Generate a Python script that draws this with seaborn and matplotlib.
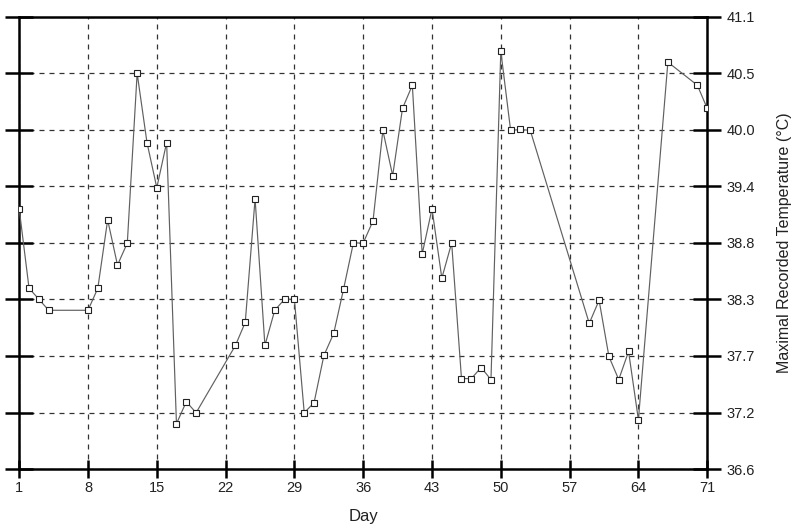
import matplotlib
matplotlib.use("Agg")
import matplotlib.pyplot as plt
import seaborn as sns
import numpy as np
import pandas as pd

days = [1, 2, 3, 4, 8, 9, 10, 11, 12, 13, 14, 15, 16, 17, 18, 19, 23, 24, 25, 26,
        27, 28, 29, 30, 31, 32, 33, 34, 35, 36, 37, 38, 39, 40, 41, 42, 43, 44, 45,
        46, 47, 48, 49, 50, 51, 52, 53, 59, 60, 61, 62, 63, 64, 67, 70, 71]
temps = [39.19, 38.40, 38.29, 38.18, 38.18, 38.40, 39.08, 38.63, 38.85, 40.54,
         39.85, 39.40, 39.85, 37.05, 37.27, 37.16, 37.83, 38.06, 39.29, 37.83,
         38.18, 38.29, 38.29, 37.16, 37.26, 37.73, 37.95, 38.39, 38.85, 38.85,
         39.07, 39.97, 39.52, 40.19, 40.42, 38.74, 39.19, 38.50, 38.85, 37.50,
         37.50, 37.61, 37.49, 40.76, 39.97, 39.98, 39.97, 38.05, 38.28, 37.72,
         37.49, 37.77, 37.09, 40.65, 40.42, 40.19]

x_ticks = [1, 8, 15, 22, 29, 36, 43, 50, 57, 64, 71]
y_tick_labels = ["36.6", "37.2", "37.7", "38.3", "38.8", "39.4", "40.0", "40.5", "41.1"]
y_min, y_max = 36.6, 41.1

sns.set_theme(style="white")
plt.rcParams['font.family'] = ['Liberation Sans', 'DejaVu Sans']

df = pd.DataFrame({"Day": days, "Temp": temps})

fig = plt.figure(figsize=(8.0, 5.29), dpi=100)
ax = fig.add_axes([0.024, 0.1134, 0.86, 0.8546])

sns.lineplot(data=df, x="Day", y="Temp", ax=ax, color="#606060", linewidth=0.85,
             marker="s", markersize=4.6, markerfacecolor="white",
             markeredgecolor="#222222", markeredgewidth=0.8, sort=False, zorder=3)

ax.set_xlim(1, 71)
ax.set_ylim(y_min, y_max)
ax.set_xticks(x_ticks)
ax.set_xticklabels([str(t) for t in x_ticks], fontsize=10.5)
yt = np.linspace(y_min, y_max, len(y_tick_labels))
ax.set_yticks(yt)
ax.set_yticklabels(y_tick_labels, fontsize=10.5)

ax.grid(True, color="#333333", linestyle=(0, (4, 4)), linewidth=0.9)
for s in ax.spines.values():
    s.set_color("black")
    s.set_linewidth(1.8)
    s.set_visible(True)

ax.tick_params(axis="y", which="major", direction="inout", length=20, width=1.8,
               left=True, right=True, labelleft=False, labelright=True, pad=4,
               colors="black", labelcolor="#222222")
ax.tick_params(axis="x", which="major", direction="inout", length=13, width=1.8,
               bottom=True, top=False, pad=2, colors="black", labelcolor="#222222")

ax.yaxis.set_label_position("right")
ax.set_ylabel("Maximal Recorded Temperature (°C)", fontsize=11.5, labelpad=16, color="#222222")
ax.set_xlabel("Day", fontsize=12, labelpad=10, color="#222222")

fig.savefig("out.png", dpi=100)
